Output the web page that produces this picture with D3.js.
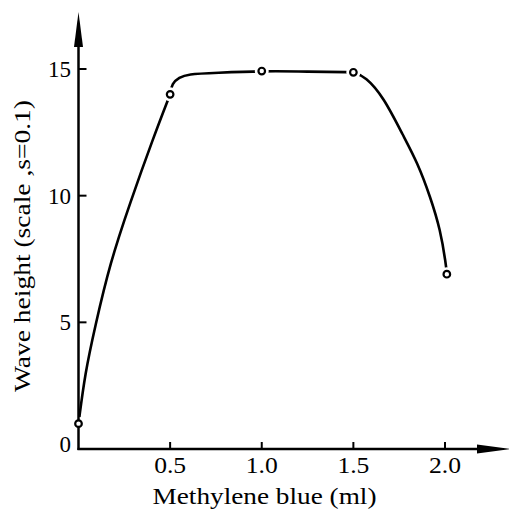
<!DOCTYPE html>
<html><head><meta charset="utf-8">
<script src="https://cdn.jsdelivr.net/npm/d3@7"></script>
<style>html,body{margin:0;padding:0;background:#fff;}svg{display:block;}</style>
</head><body>
<svg id="c" width="509" height="510"></svg>
<script>
// measured markers
const markerX = [0.0, 0.5, 1.0, 1.5, 2.01];
const markerY = [1.0, 14.0, 14.92, 14.87, 6.9];
// hand-drawn curve trace
const curveX = [0.0, 0.036, 0.09, 0.172, 0.281, 0.409, 0.5, 0.51, 0.55, 0.593, 0.75, 1.0, 1.25, 1.5, 1.566, 1.664, 1.773, 1.85, 1.92, 1.975, 2.005, 2.01];
const curveY = [1.0, 3.0, 4.82, 7.34, 9.71, 12.3, 14.0, 14.44, 14.66, 14.8, 14.85, 14.92, 14.9, 14.87, 14.7, 13.9, 12.35, 11.3, 9.95, 8.65, 7.3, 6.9];
// pieces of the curve (breaks at these x values, where the line bends sharply)
const curveBreaks = [0.5, 1.5];
const xTicks = [0.5, 1.0, 1.5, 2.0];
const xTickLabels = ["0.5", "1.0", "1.5", "2.0"];
const yTicks = [5, 10, 15];
const yTickLabels = ["5", "10", "15"];
const xTitle = "Methylene blue (ml)";
const yTitle = "Wave height (scale ,s=0.1)";

const svg = d3.select("#c");
const x = d3.scaleLinear().domain([0, 2]).range([78.5, 445]);
const y = d3.scaleLinear().domain([0, 15]).range([449, 69]);
const font = "'Liberation Serif','Times New Roman',Times,serif";

// curve, split into pieces
const pts = curveX.map((v, i) => [v, curveY[i]]);
const edges = [-Infinity, ...curveBreaks, Infinity];
const pieces = [];
for (let k = 0; k < edges.length - 1; k++) {
  pieces.push(pts.filter(p => p[0] >= (k === 0 ? -Infinity : edges[k]) && p[0] <= edges[k + 1]));
}
const line = d3.line().x(d => x(d[0])).y(d => y(d[1])).curve(d3.curveBasis);
svg.selectAll(".seg").data(pieces).join("path")
  .attr("d", d => line(d))
  .attr("fill", "none").attr("stroke", "#000").attr("stroke-width", 2.6)
  .attr("stroke-linecap", "round").attr("stroke-linejoin", "round");

// halos (gaps around markers)
const mk = markerX.map((v, i) => [v, markerY[i]]);
svg.selectAll(".halo").data(mk).join("circle")
  .attr("cx", d => x(d[0])).attr("cy", d => y(d[1])).attr("r", 7)
  .attr("fill", "#fff");

// axes lines
const x0 = x(0), y0 = y(0);
svg.append("line").attr("x1", x0).attr("x2", x0).attr("y1", y0 + 1).attr("y2", 40)
  .attr("stroke", "#000").attr("stroke-width", 2.5);
svg.append("line").attr("x1", x0 - 1).attr("x2", 482).attr("y1", y0).attr("y2", y0)
  .attr("stroke", "#000").attr("stroke-width", 2.5);
// arrowheads
svg.append("path").attr("d", `M${x0},12 L${x0 - 4.5},47 L${x0 + 4.5},47 Z`).attr("fill", "#000");
svg.append("path").attr("d", `M510,${y0} L477,${y0 - 4.5} L477,${y0 + 4.5} Z`).attr("fill", "#000");

// ticks
svg.selectAll(".xt").data(xTicks).join("line")
  .attr("x1", d => x(d)).attr("x2", d => x(d)).attr("y1", y0).attr("y2", y0 - 7)
  .attr("stroke", "#000").attr("stroke-width", 2);
svg.selectAll(".yt").data(yTicks).join("line")
  .attr("x1", x0).attr("x2", x0 + 8).attr("y1", d => y(d)).attr("y2", d => y(d))
  .attr("stroke", "#000").attr("stroke-width", 2);

// tick labels
svg.selectAll(".xl").data(xTicks).join("text")
  .attr("x", d => x(d)).attr("y", 473).attr("text-anchor", "middle")
  .attr("font-family", font).attr("font-size", 23)
  .attr("textLength", 32).attr("lengthAdjust", "spacingAndGlyphs")
  .text((d, i) => xTickLabels[i]);
svg.selectAll(".yl").data(yTicks).join("text")
  .attr("x", 71).attr("y", d => y(d) + 8).attr("text-anchor", "end")
  .attr("font-family", font).attr("font-size", 23)
  .text((d, i) => yTickLabels[i]);
svg.append("text").attr("x", 71).attr("y", 452).attr("text-anchor", "end")
  .attr("font-family", font).attr("font-size", 23).text("0");

// titles
svg.append("text").attr("x", 152.5).attr("y", 504)
  .attr("font-family", font).attr("font-size", 23)
  .attr("textLength", 224).attr("lengthAdjust", "spacingAndGlyphs")
  .text(xTitle);
svg.append("text").attr("transform", "translate(30,392) rotate(-90)")
  .attr("x", 0).attr("y", 0)
  .attr("font-family", font).attr("font-size", 23)
  .attr("textLength", 292).attr("lengthAdjust", "spacingAndGlyphs")
  .text(yTitle);

// markers
svg.selectAll(".mk").data(mk).join("circle")
  .attr("cx", d => x(d[0])).attr("cy", d => y(d[1])).attr("r", 3.3)
  .attr("fill", "#fff").attr("stroke", "#000").attr("stroke-width", 2.2);
</script>
</body></html>
